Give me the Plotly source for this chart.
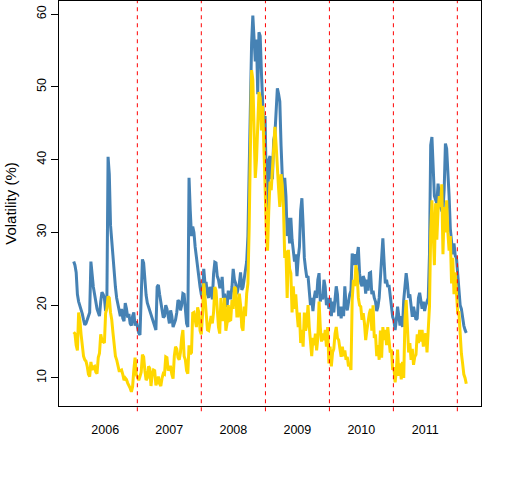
import pandas as pd
import plotly.graph_objects as go

# weekly observation dates
dates = pd.date_range("2006-01-03", periods=321, freq="7D")

blue_vol = [
    26.0, 25.5, 24.5, 21.5, 20.5, 20.0, 19.5, 18.8, 18.0, 17.3,
    17.5, 18.0, 18.3, 19.0, 26.0, 24.0, 22.5, 21.5, 20.3, 19.5,
    19.0, 18.5, 20.5, 21.8, 21.5, 21.0, 19.2, 20.0, 40.4, 38.0,
    31.0, 28.5, 26.5, 24.4, 22.5, 21.0, 20.0, 19.0, 18.5, 19.5,
    18.2, 17.8, 20.3, 19.5, 18.3, 18.8, 17.5, 17.2, 18.5, 19.0,
    17.2, 17.8, 16.8, 16.2, 15.9, 22.0, 26.3, 25.8, 23.5, 21.4,
    20.3, 19.8, 19.0, 18.5, 18.2, 17.5, 17.0, 16.6, 22.5, 22.8,
    21.5, 20.3, 19.5, 18.3, 18.5, 20.0, 19.5, 18.3, 17.5, 19.3,
    18.5, 17.0, 17.5, 18.0, 19.0, 20.7, 20.5, 19.3, 20.0, 21.6,
    21.5, 18.9, 17.5, 17.0, 37.5, 33.0, 29.5, 30.8, 30.0, 28.0,
    26.5, 25.0, 24.0, 22.5, 21.5, 21.0, 25.0, 23.0, 23.0, 21.5,
    21.0, 22.5, 22.0, 20.8, 24.3, 25.9, 25.8, 24.0, 23.5, 22.5,
    22.5, 23.9, 21.0, 21.6, 20.0, 19.8, 22.0, 21.0, 21.0, 22.5,
    25.0, 23.5, 23.0, 21.5, 22.3, 23.0, 24.5, 22.1, 22.5, 23.9,
    25.0, 26.0, 29.5, 38.0, 51.0, 56.0, 59.8, 57.0, 53.5, 56.5,
    49.0, 57.5, 57.0, 52.0, 47.0, 44.0, 46.0, 36.0, 33.0, 40.0,
    40.5, 37.5, 37.5, 42.7, 43.5, 46.3, 49.8, 49.0, 48.0, 42.0,
    38.5, 33.5, 37.5, 35.0, 29.5, 32.0, 28.5, 32.0, 29.0, 27.0,
    26.0, 27.0, 24.0, 26.5, 28.0, 33.0, 34.7, 31.0, 26.5, 25.0,
    23.8, 24.0, 21.6, 20.0, 21.0, 19.2, 21.0, 22.0, 21.0, 23.5,
    24.4, 20.5, 21.5, 20.8, 23.5, 22.5, 20.0, 21.0, 19.5, 21.0,
    18.5, 20.5, 19.0, 21.5, 22.6, 21.5, 18.5, 19.8, 18.2, 19.8,
    18.5, 22.6, 20.0, 19.3, 20.5, 21.5, 22.0, 27.1, 25.5, 27.0,
    25.5, 27.0, 28.0, 24.4, 23.0, 22.6, 24.0, 23.5, 21.6, 23.5,
    22.0, 24.4, 24.5, 21.5, 22.0, 21.0, 20.5, 19.2, 19.8, 21.0,
    23.5, 26.5, 29.2, 26.0, 23.0, 23.5, 22.5, 22.8, 21.0, 19.8,
    18.4, 17.9, 16.6, 18.0, 19.8, 18.5, 17.2, 18.5, 17.0, 20.7,
    22.5, 24.4, 23.0, 21.0, 21.5, 19.8, 18.4, 19.8, 18.5, 18.0,
    18.2, 21.0, 21.7, 20.7, 19.5, 20.5, 19.2, 20.0, 20.5, 21.0,
    27.0, 42.0, 43.1, 39.0, 35.0, 34.5, 34.0, 36.7, 34.4, 33.5,
    33.0, 33.0, 36.0, 42.2, 41.5, 39.0, 35.0, 30.5, 28.5, 27.0,
    28.5, 26.8, 26.5, 24.0, 21.5, 20.0, 19.5, 18.0, 17.2, 16.6,
    16.2,
]

gold_vol = [
    16.3, 16.1, 14.5, 13.8, 19.0, 18.0, 16.0, 14.0, 13.0, 12.5,
    12.3, 11.6, 10.5, 10.2, 12.2, 11.1, 11.5, 11.6, 10.8, 10.6,
    12.8, 13.4, 16.0, 15.2, 15.0, 14.8, 18.9, 19.5, 21.2, 21.0,
    19.0, 18.0, 16.2, 14.3, 13.0, 12.5, 11.8, 11.0, 11.0, 11.1,
    10.5, 9.7, 10.0, 9.8, 9.3, 9.0, 8.6, 8.1, 8.8, 11.1,
    12.8, 10.5, 10.0, 9.7, 10.2, 10.8, 13.2, 12.9, 11.0, 9.7,
    10.0, 11.6, 11.3, 8.9, 10.5, 11.1, 11.0, 9.0, 9.5, 10.2,
    9.2, 8.9, 10.0, 10.6, 10.5, 12.9, 12.8, 11.0, 11.5, 11.5,
    10.5, 9.9, 13.0, 14.3, 14.0, 12.8, 12.5, 13.5, 15.5, 16.6,
    13.0, 12.5, 11.0, 10.6, 14.5, 13.3, 13.5, 18.9, 19.0, 18.1,
    17.0, 19.7, 19.0, 16.5, 16.0, 18.7, 23.0, 21.1, 19.0, 16.6,
    16.5, 17.5, 18.5, 17.5, 19.0, 22.5, 22.0, 19.5, 17.0, 16.1,
    21.0, 18.0, 18.0, 21.0, 16.5, 17.5, 20.0, 17.9, 18.0, 20.7,
    19.5, 22.5, 22.3, 18.5, 18.5, 21.6, 20.0, 17.0, 16.5, 19.8,
    18.5, 21.6, 23.0, 30.5, 46.0, 52.3, 51.0, 43.0, 37.5, 40.0,
    45.9, 49.3, 48.5, 44.0, 47.4, 40.0, 36.3, 30.0, 27.5, 33.0,
    37.0, 35.8, 39.0, 42.0, 44.5, 42.0, 38.0, 36.0, 33.5, 38.0,
    36.5, 33.5, 26.5, 27.5, 21.0, 27.6, 25.0, 24.4, 19.0, 22.6,
    19.5, 21.5, 19.0, 17.0, 19.0, 14.8, 16.6, 14.3, 19.0, 16.5,
    17.5, 20.0, 17.0, 15.0, 13.0, 15.5, 14.5, 16.1, 13.8, 15.5,
    20.5, 17.0, 15.0, 16.1, 15.2, 16.6, 14.3, 17.0, 12.0, 14.3,
    11.6, 13.5, 14.0, 16.1, 17.0, 15.5, 15.2, 14.0, 12.9, 14.3,
    13.0, 13.8, 12.5, 12.9, 11.6, 12.0, 11.1, 20.7, 23.5, 22.6,
    25.5, 24.5, 21.0, 20.0, 19.8, 18.0, 18.9, 17.5, 15.2, 16.6,
    18.0, 18.9, 19.5, 16.5, 20.0, 15.5, 16.0, 13.0, 14.5, 12.5,
    16.5, 12.8, 17.0, 15.2, 16.6, 14.5, 17.0, 15.0, 13.5, 13.9,
    11.1, 11.5, 9.4, 11.0, 13.9, 10.3, 12.0, 9.8, 12.2, 10.0,
    18.0, 20.7, 16.1, 13.5, 14.8, 12.5, 14.0, 11.8, 12.9, 13.2,
    16.0, 14.8, 16.6, 15.0, 16.6, 14.3, 15.8, 16.1, 13.5, 16.0,
    19.8, 30.0, 34.4, 30.0, 25.5, 34.0, 29.0, 33.0, 35.0, 33.5,
    36.6, 27.0, 33.5, 30.0, 34.4, 30.0, 27.5, 29.5, 23.0, 26.5,
    21.5, 24.5, 22.0, 19.0, 19.0, 15.0, 13.4, 12.0, 10.5, 10.0,
    9.2,
]

year_breaks = ["2007-01-01", "2008-01-01", "2009-01-01", "2010-01-01",
               "2011-01-01", "2012-01-01"]
year_label_pos = ["2006-07-02", "2007-07-02", "2008-07-02", "2009-07-02",
                  "2010-07-02", "2011-07-02"]
year_labels = ["2006", "2007", "2008", "2009", "2010", "2011"]
y_ticks = [10, 20, 30, 40, 50, 60]

FONT = "Liberation Sans, Arial, sans-serif"

fig = go.Figure()
fig.add_trace(go.Scatter(x=dates, y=blue_vol, mode="lines",
                         line=dict(color="#4682B4", width=3), showlegend=False))
fig.add_trace(go.Scatter(x=dates, y=gold_vol, mode="lines",
                         line=dict(color="#FFD700", width=3), showlegend=False))

for d in year_breaks:
    fig.add_shape(type="line", xref="x", yref="paper", x0=d, x1=d,
                  y0=-0.013, y1=1, line=dict(color="#FF0000", width=1, dash="4px,4px"))

fig.update_layout(
    width=512, height=480,
    margin=dict(l=59, r=31, t=1, b=74),
    paper_bgcolor="white", plot_bgcolor="white",
    font=dict(family=FONT, size=12.5, color="black"),
    xaxis=dict(
        type="date", range=["2005-10-11", "2012-05-15"],
        tickvals=year_label_pos, ticktext=year_labels,
        ticks="outside", ticklen=12, tickcolor="rgba(0,0,0,0)",
        showgrid=False, zeroline=False,
        showline=True, linecolor="black", linewidth=1, mirror=True,
    ),
    yaxis=dict(
        range=[6.15, 61.8], tickvals=y_ticks,
        ticks="outside", ticklen=7, tickcolor="black", tickwidth=1,
        tickangle=-90, automargin=False,
        showgrid=False, zeroline=False,
        showline=True, linecolor="black", linewidth=1, mirror=True,
        title=dict(text="Volatility (%)", standoff=14),
    ),
)

fig.write_html("out.html", config={"displayModeBar": False},
               post_script="document.body.style.margin='0px';document.body.style.padding='0px';")
